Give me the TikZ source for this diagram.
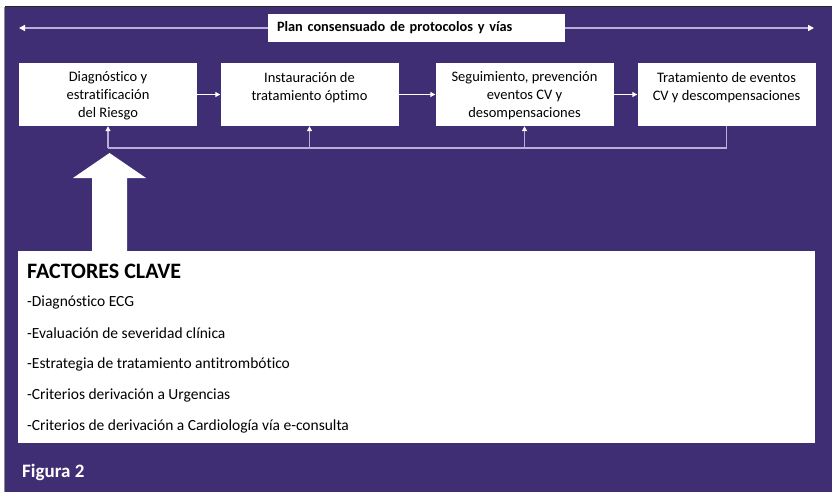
\documentclass[tikz,border=0pt]{standalone}
\usepackage{fontspec}
\setmainfont{Carlito}[Ligatures=CommonOff]
\usetikzlibrary{arrows.meta}
\definecolor{panelpurple}{HTML}{3F2E73}
\definecolor{linelav}{HTML}{B8AED8}
\newcommand{\stagetext}[1]{\parbox[c][45pt][t]{172pt}{\centering\fontsize{14.5}{18}\selectfont #1}}

\begin{document}
\begin{tikzpicture}[x=1pt, y=-1pt,
	stage/.style={fill=white, inner sep=0pt, minimum width=178pt, minimum height=63pt},
	flow/.style={white, line width=1.1pt, -{Triangle[length=5pt, width=5pt]}},
	loopline/.style={linelav, line width=1.1pt},
	uparrow/.style={linelav, line width=1.1pt, -{Triangle[length=5pt, width=5pt, color=white]}},
	factor/.style={anchor=west, inner sep=0pt, font=\fontsize{15.5}{18}\selectfont}]
			%%%%% START %%%%%
			\useasboundingbox (0, 0) rectangle (832, 492);
			\fill[white] (0, 0) rectangle (832, 492);
			\fill[panelpurple] (5, 7) rectangle (832, 492);
			\draw[line width=1pt, color=black!85] (5, 7) -- (832, 7);
			\draw[line width=1pt, color=black!45] (4, 7) -- (4, 492);
			
			% plan label and the long arrow
			\node[fill=white, minimum width=297pt, minimum height=28pt, inner sep=0pt, text width=279pt, align=left, font=\bfseries\fontsize{14.3}{16}\selectfont] (plan) at (416.5, 28) {Plan consensuado de protocolos y vías};
			\coordinate (planleft) at (19, 28);
			\coordinate (planright) at (814, 28);
			\draw[linelav, line width=1.6pt, -{Triangle[length=6pt, width=6pt, color=white]}] (plan.west) -- (planleft);
			\draw[linelav, line width=1.6pt, -{Triangle[length=6pt, width=6pt, color=white]}] (plan.east) -- (planright);
			
			% stages
			\node[stage] (diag) at (108, 94.5) {\stagetext{Diagnóstico y\\estratificación\\del Riesgo}};
			\node[stage] (inst) at (309.5, 94.5) {\stagetext{Instauración de\\tratamiento óptimo}};
			\node[stage] (segu) at (524.5, 94.5) {\stagetext{Seguimiento, prevención\\eventos CV y\\desompensaciones}};
			\node[stage] (trat) at (726.5, 94.5) {\stagetext{Tratamiento de eventos\\CV y descompensaciones}};
			
			\draw[flow] (diag.east) -- (inst.west);
			\draw[flow] (inst.east) -- (segu.west);
			\draw[flow] (segu.east) -- (trat.west);
			
			% feedback
			\coordinate (back) at (108, 148);
			\draw[loopline] (trat.south) |- (back);
			\draw[uparrow] (back) -- (diag.south);
			\draw[uparrow] (inst.south |- back) -- (inst.south);
			\draw[uparrow] (segu.south |- back) -- (segu.south);
			
			% key factors
			\fill[white] (18, 251) rectangle (815, 443);
			\fill[white] (92, 252) -- (92, 178) -- (73, 178) -- (109.5, 153) -- (146, 178) -- (127, 178) -- (127, 252) -- cycle;
			\node[anchor=west, inner sep=0pt, font=\bfseries\fontsize{22}{24}\selectfont] (keys) at (27, 271) {FACTORES CLAVE};
			\foreach \txt [count=\i] in {-Diagnóstico ECG, -Evaluación de severidad clínica, -Estrategia de tratamiento antitrombótico, -Criterios derivación a Urgencias, -Criterios de derivación a Cardiología vía e-consulta}
				\node[factor] (item\i) at (27, 271 + 31*\i) {\txt};
			
			\node[anchor=west, inner sep=0pt, text=white, font=\bfseries\fontsize{19}{22}\selectfont] (fig) at (22, 472) {Figura 2};
			%%%%% END %%%%%
\end{tikzpicture}
\end{document}
